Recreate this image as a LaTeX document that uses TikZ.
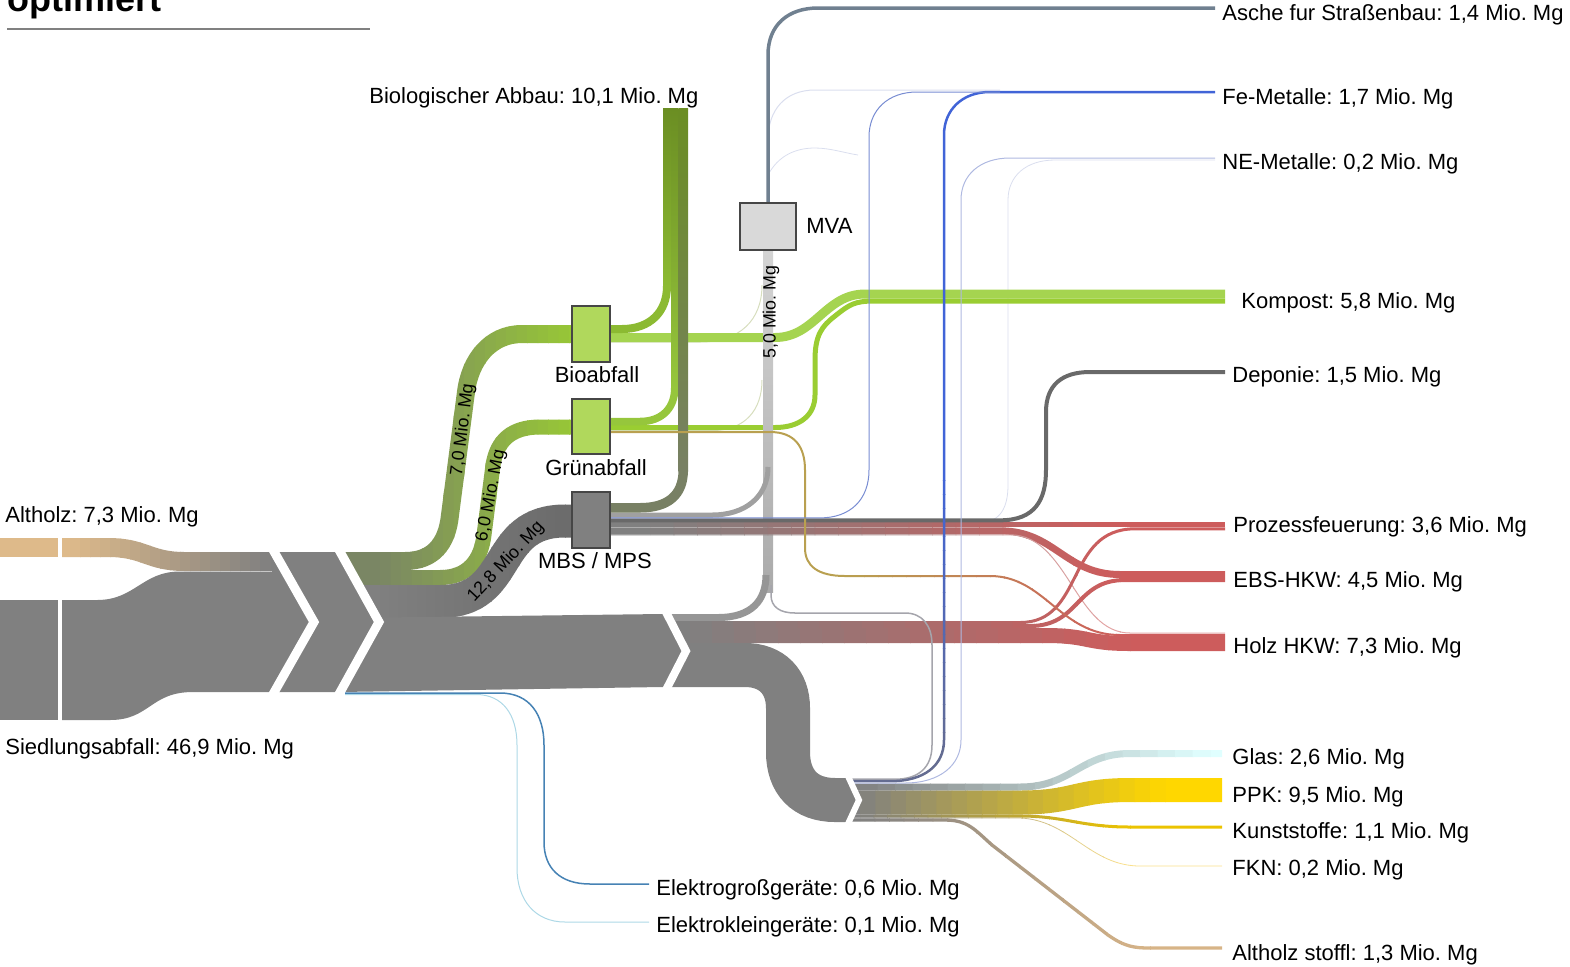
\documentclass[tikz,border=0pt]{standalone}
\usepackage{fontspec}
\setmainfont{Liberation Sans}
\frenchspacing
\definecolor{cgray}{RGB}{128,128,128}
\definecolor{ctan}{RGB}{222,186,138}
\definecolor{cred}{RGB}{205,92,92}
\definecolor{cpink}{RGB}{228,165,165}
\definecolor{cgreen}{RGB}{154,205,50}
\definecolor{cgreenL}{RGB}{165,212,80}
\definecolor{colive}{RGB}{122,134,100}
\definecolor{cbioab}{RGB}{140,186,50}
\definecolor{cgrab}{RGB}{150,198,60}
\definecolor{cabbau}{RGB}{107,142,35}
\definecolor{cmbsab}{RGB}{120,128,100}
\definecolor{cmbs}{RGB}{108,108,108}
\definecolor{cmvaT}{RGB}{212,212,212}
\definecolor{cmvaB}{RGB}{170,170,170}
\definecolor{cmvas}{RGB}{160,160,160}
\definecolor{cmvas2}{RGB}{150,150,150}
\definecolor{cslate}{RGB}{112,128,144}
\definecolor{cdep}{RGB}{105,105,105}
\definecolor{ckhaki}{RGB}{185,160,80}
\definecolor{cglas}{RGB}{224,255,255}
\definecolor{cgold}{RGB}{255,215,0}
\definecolor{ckunst}{RGB}{235,195,0}
\definecolor{cfkn}{RGB}{250,225,140}
\definecolor{cstoffl}{RGB}{215,180,135}
\definecolor{cthin}{RGB}{165,165,172}
\definecolor{cblue}{RGB}{65,100,215}
\definecolor{cbluegray}{RGB}{100,108,145}
\definecolor{cne}{RGB}{175,185,225}
\definecolor{cmbsfe}{RGB}{120,140,210}
\definecolor{cfaint}{RGB}{218,222,238}
\definecolor{cfaintg}{RGB}{215,222,190}
\definecolor{csteel}{RGB}{70,130,180}
\definecolor{clblue}{RGB}{173,216,230}
\definecolor{cbox}{RGB}{176,216,92}
\definecolor{cboxline}{RGB}{70,70,70}
\definecolor{cmvabox}{RGB}{217,217,217}
\tikzset{
 bw/.style={line width=#1*0.5pt},
 lbl/.style={anchor=base west, inner sep=0pt, font=\fontsize{11}{13}\selectfont},
 clbl/.style={anchor=base, inner sep=0pt, font=\fontsize{11}{13}\selectfont},
 rlbl/.style={inner sep=0pt, font=\fontsize{8.9}{10}\selectfont},
 boxst/.style={draw=cboxline, line width=0.75pt, inner sep=0pt},
}
% horizontal gradient band: width, x0, x1, colour0, colour1, path
\newcommand\gband[6]{%
  \begin{scope}\clip (-20,-20) rectangle (#2,1000);\draw[bw=#1,draw=#4] #6;\end{scope}
  \begin{scope}\clip (#3,-20) rectangle (1600,1000);\draw[bw=#1,draw=#5] #6;\end{scope}
  \foreach \k in {0,...,19}{%
    \pgfmathsetmacro\xa{#2+(#3-#2)*\k/20}%
    \pgfmathsetmacro\xb{#2+(#3-#2)*(\k+1)/20+0.8}%
    \pgfmathtruncatemacro\pc{100-5*\k-2.5}%
    \begin{scope}\clip (\xa,-20) rectangle (\xb,1000);\draw[bw=#1,draw=#4!\pc!#5] #6;\end{scope}
  }%
}
% vertical gradient band: width, y0, y1, colour0, colour1, path
\newcommand\vgband[6]{%
  \begin{scope}\clip (-20,-20) rectangle (1600,#2);\draw[bw=#1,draw=#4] #6;\end{scope}
  \begin{scope}\clip (-20,#3) rectangle (1600,1000);\draw[bw=#1,draw=#5] #6;\end{scope}
  \foreach \k in {0,...,19}{%
    \pgfmathsetmacro\ya{#2+(#3-#2)*\k/20}%
    \pgfmathsetmacro\yb{#2+(#3-#2)*(\k+1)/20+0.8}%
    \pgfmathtruncatemacro\pc{100-5*\k-2.5}%
    \begin{scope}\clip (-20,\ya) rectangle (1600,\yb);\draw[bw=#1,draw=#4!\pc!#5] #6;\end{scope}
  }%
}
\begin{document}
\begin{tikzpicture}[x=0.5pt,y=-0.5pt]
\useasboundingbox (0,0) rectangle (1570,966);

% ---- title
\node[anchor=base west, inner sep=0pt, font=\bfseries\fontsize{18}{20}\selectfont] (title) at (7,11) {optimiert};
\draw[bw=2, cgray] (7,28.5) -- (370,28.5);

% ---- faint lines
\draw[bw=1, cfaint] (768,140) .. controls (768,110) and (785,90) .. (815,90) -- (1000,90);
\draw[bw=0.8, cfaint] (768,175) .. controls (778,156) and (795,148) .. (815,148) .. controls (830,148) and (845,153) .. (858,155);
\draw[bw=0.8, cfaint] (610,522.3) -- (980,522.3) .. controls (1000,522.3) and (1008,508) .. (1008,485) -- (1008,200) .. controls (1008,176) and (1026,160) .. (1055,160) -- (1215,160);
\draw[bw=1, cfaintg] (610,342) -- (700,342) .. controls (740,342) and (762,320) .. (762,285);
\draw[bw=1, cfaintg] (610,430.5) -- (712,430.5) .. controls (745,430.5) and (762,410) .. (762,380);

% ---- inflows to Bioabfall, Gruenabfall, MBS
\gband{18}{380}{590}{colive}{cgreen}{(340,561) -- (405,561) .. controls (432,561) and (447,545) .. (450,515) -- (466,392) .. controls (470,360) and (490,334) .. (522,334) -- (573,334)}
\gband{15}{380}{590}{colive}{cgreen}{(340,577.5) -- (440,577.5) .. controls (468,577.5) and (481,560) .. (484,535) -- (493,465) .. controls (497,440) and (512,427) .. (540,427) -- (573,427)}
\gband{33}{380}{565}{cgray}{cmbs}{(340,601.5) -- (440,601.5) .. controls (515,601.5) and (490,521) .. (565,521) -- (573,521)}

% ---- green outflows
\draw[bw=9, cgreenL] (610,337.5) -- (775,337.5) .. controls (815,337.5) and (825,294) .. (865,294) -- (1225,294);
\draw[bw=5, cgreen] (610,427.5) -- (775,427.5) .. controls (800,427.5) and (815,415) .. (815,395) -- (815,360) .. controls (815,335) and (822,326) .. (835,316) .. controls (850,304) and (855,301) .. (875,301) -- (1225,301);
\draw[bw=8, cbioab] (610,329) -- (622,329) .. controls (650,329) and (667,312) .. (667,286);
\shade[top color=cabbau, bottom color=cbioab] (663,108) rectangle (671,287);
\draw[bw=7.5, cgrab] (610,421.5) -- (640,421.5) .. controls (662,421.5) and (674.75,408) .. (674.75,388);
\shade[top color=cabbau, bottom color=cgrab] (671,108) rectangle (678.5,389);

% ---- MVA inputs and ash
\shade[top color=cmvaT, bottom color=cmvaB] (763,250) rectangle (773,592);
\draw[bw=5, cmvas] (610,515) -- (712,515) .. controls (745,515) and (768,497) .. (768,467);
\draw[bw=7, cmvas2] (662,617.5) -- (718,617.5) .. controls (752,617.5) and (766,600) .. (766,575);
\draw[bw=3.5, cslate] (768,203) -- (768,55) .. controls (768,25) and (788,8) .. (818,8) -- (1215,8);

% ---- MBS to biological degradation
\draw[bw=9.5, cmbsab] (610,507.75) -- (640,507.75) .. controls (668,507.75) and (683.25,495) .. (683.25,470);
\shade[top color=cabbau, bottom color=cmbsab] (678.5,108) rectangle (688,471);

% ---- red flows
\gband{5}{650}{1120}{cgray}{cred}{(610,524.8) -- (1225,524.8)}
\gband{7}{650}{1120}{cgray}{cred}{(610,530.8) -- (1000,530.8) .. controls (1055,530.8) and (1065,574.5) .. (1120,574.5) -- (1225,574.5)}
\gband{1}{650}{1120}{cgray}{cpink}{(610,534.8) -- (1010,534.8) .. controls (1068,534.8) and (1075,633) .. (1130,633) -- (1225,633)}
\gband{3}{690}{1120}{cgray}{cred}{(662,622.5) -- (1020,622.5) .. controls (1085,622.5) and (1065,528.8) .. (1135,528.8) -- (1225,528.8)}
\gband{4}{690}{1120}{cgray}{cred}{(662,626) -- (1030,626) .. controls (1080,626) and (1075,580) .. (1125,580) -- (1225,580)}
\gband{15}{690}{1130}{cgray}{cred}{(662,635.5) -- (1045,635.5) .. controls (1090,635.5) and (1085,643.5) .. (1130,643.5) -- (1225,643.5)}
\draw[bw=4, cdep] (610,520.3) -- (1000,520.3) .. controls (1035,520.3) and (1046,500) .. (1046,470) -- (1046,412) .. controls (1046,385) and (1062,372) .. (1090,372) -- (1225,372);
\gband{2}{850}{1130}{ckhaki}{cred}{(610,432) -- (770,432) .. controls (795,432) and (805,447) .. (805,470) -- (805,548) .. controls (805,566) and (818,576) .. (845,576) -- (990,576) .. controls (1045,576) and (1060,635) .. (1120,635) -- (1225,635)}

% ---- sorting outputs
\gband{7}{860}{1210}{cgray}{cglas}{(846,787) -- (1020,787) .. controls (1072,787) and (1080,753.5) .. (1130,753.5) -- (1222,753.5)}
\gband{24}{860}{1165}{cgray}{cgold}{(846,802.5) -- (1020,802.5) .. controls (1075,802.5) and (1075,790) .. (1130,790) -- (1222,790)}
\gband{3}{860}{1130}{cgray}{ckunst}{(846,816) -- (1020,816) .. controls (1065,816) and (1080,827) .. (1130,827) -- (1222,827)}
\gband{0.8}{860}{1130}{cgray}{cfkn}{(846,818) -- (1020,818) .. controls (1070,820) and (1090,866) .. (1140,866) -- (1222,866)}
\gband{3.3}{860}{1150}{cgray}{cstoffl}{(846,820) -- (945,820) .. controls (968,820) and (975,830) .. (992,845) -- (1108,935) .. controls (1125,947) and (1135,948) .. (1150,948) -- (1222,948)}

% ---- thin lines on top
\draw[bw=1.5, cthin] (771,585) -- (771,595) .. controls (771,607) and (780,613) .. (795,613) -- (905,613) .. controls (922,613) and (932,625) .. (932,645) -- (932,745) .. controls (932,768) and (918,779.2) .. (895,779.2) -- (846,779.2);
\vgband{2.5}{480}{760}{cblue}{cbluegray}{(846,781.2) -- (890,781.2) .. controls (925,781.2) and (944,765) .. (944,740) -- (944,135) .. controls (944,110) and (962,92) .. (990,92) -- (1215,92)}
\draw[bw=1, cne] (846,783) -- (905,783) .. controls (940,783) and (961,765) .. (961,740) -- (961,200) .. controls (961,175) and (980,158) .. (1010,158) -- (1215,158);
\draw[bw=1, cmbsfe] (610,517.9) -- (820,517.9) .. controls (850,517.9) and (869,500) .. (869,470) -- (869,137) .. controls (869,110) and (888,92) .. (917,92) -- (1000,92);

% ---- big gray pieces
\draw[bw=44, cgray] (662,665) -- (745,665) .. controls (772,665) and (788,682) .. (788,708) -- (788,752) .. controls (788,782) and (805,800) .. (835,800) -- (846,800);
\fill[cgray] (846,778) -- (857,800) -- (846,822) -- cycle;
\fill[cgray] (340,618) -- (662,614) -- (681,651) -- (662,687) -- (340,692) -- cycle;

% ---- sources
\fill[ctan] (0,538) rectangle (58,557);
\fill[cgray] (0,600) rectangle (58,720);
\gband{19}{70}{270}{ctan}{cgray}{(62,547.5) -- (108,547.5) .. controls (145,547.5) and (148,561.5) .. (185,561.5) -- (282,561.5)}
\fill[cgray] (62,600) -- (97,600) .. controls (135,600) and (142,571.5) .. (180,571.5) -- (272,571.5) -- (272,552) -- (340,552) -- (379,622) -- (340,692) -- (193,692) .. controls (150,692) and (150,720) .. (110,720) -- (62,720) -- cycle;

% ---- white chevrons
\begin{scope}
\clip (0,552) rectangle (1570,692);
\draw[white, bw=9] (272,548) -- (314,622) -- (272,696);
\draw[white, bw=9] (338,548) -- (379,622) -- (338,696);
\end{scope}
\begin{scope}
\clip (600,613) rectangle (800,688);
\draw[white, bw=8] (665,610) -- (686,651) -- (665,692);
\end{scope}
\begin{scope}
\clip (800,778) rectangle (900,822);
\draw[white, bw=6] (847,774) -- (859,800) -- (847,826);
\end{scope}

% ---- electro lines
\draw[bw=1.5, csteel] (345,693) -- (500,693) .. controls (530,693) and (544,715) .. (544,745) -- (544,842) .. controls (544,868) and (560,884) .. (590,884) -- (649,884);
\draw[bw=1, clblue] (345,694.5) -- (476,694.5) .. controls (503,694.5) and (517,715) .. (517,745) -- (517,868) .. controls (517,900) and (535,922) .. (565,922) -- (649,922);

% ---- boxes
\node[boxst, fill=cbox, minimum width=19pt, minimum height=28pt] (bio) at (591,334) {};
\node[boxst, fill=cbox, minimum width=19pt, minimum height=27.5pt] (gruen) at (591,426.5) {};
\node[boxst, fill=cgray, minimum width=19pt, minimum height=28pt] (mbs) at (591,520) {};
\node[boxst, fill=cmvabox, minimum width=28pt, minimum height=23.5pt] (mva) at (768,226.5) {};

% ---- labels
\node[lbl] (lalth) at (5,522) {Altholz: 7,3 Mio. Mg};
\node[lbl] (lsied) at (5,754) {Siedlungsabfall: 46,9 Mio. Mg};
\node[lbl] (labb) at (369,103) {Biologischer Abbau: 10,1 Mio. Mg};
\node[lbl] (lmva) at (806,233) {MVA};
\node[clbl] (lbio) at (597,382) {Bioabfall};
\node[clbl] (lgr) at (596,475) {Grünabfall};
\node[clbl] (lmbs) at (595,568) {MBS / MPS};
\node[lbl] (lasche) at (1222,20) {Asche fur Straßenbau: 1,4 Mio. Mg};
\node[lbl] (lfe) at (1222,104) {Fe-Metalle: 1,7 Mio. Mg};
\node[lbl] (lne) at (1222,169) {NE-Metalle: 0,2 Mio. Mg};
\node[lbl] (lkomp) at (1241,308) {Kompost: 5,8 Mio. Mg};
\node[lbl] (ldep) at (1232,382) {Deponie: 1,5 Mio. Mg};
\node[lbl] (lproz) at (1233,532) {Prozessfeuerung: 3,6 Mio. Mg};
\node[lbl] (lebs) at (1233,587) {EBS-HKW: 4,5 Mio. Mg};
\node[lbl] (lholz) at (1233,653) {Holz HKW: 7,3 Mio. Mg};
\node[lbl] (lglas) at (1232,764) {Glas: 2,6 Mio. Mg};
\node[lbl] (lppk) at (1232,802) {PPK: 9,5 Mio. Mg};
\node[lbl] (lkunst) at (1232,838) {Kunststoffe: 1,1 Mio. Mg};
\node[lbl] (lfkn) at (1232,875) {FKN: 0,2 Mio. Mg};
\node[lbl] (lstoffl) at (1232,960) {Altholz stoffl: 1,3 Mio. Mg};
\node[lbl] (lgross) at (656,895) {Elektrogroßgeräte: 0,6 Mio. Mg};
\node[lbl] (lklein) at (656,932) {Elektrokleingeräte: 0,1 Mio. Mg};
\node[rlbl, rotate=83] (l70) at (463,430) {7,0 Mio. Mg};
\node[rlbl, rotate=79] (l60) at (491,496) {6,0 Mio. Mg};
\node[rlbl, rotate=47] (l128) at (506,562) {12,8 Mio. Mg};
\node[rlbl, rotate=90] (l50) at (771,312) {5,0 Mio. Mg};
\end{tikzpicture}
\end{document}
